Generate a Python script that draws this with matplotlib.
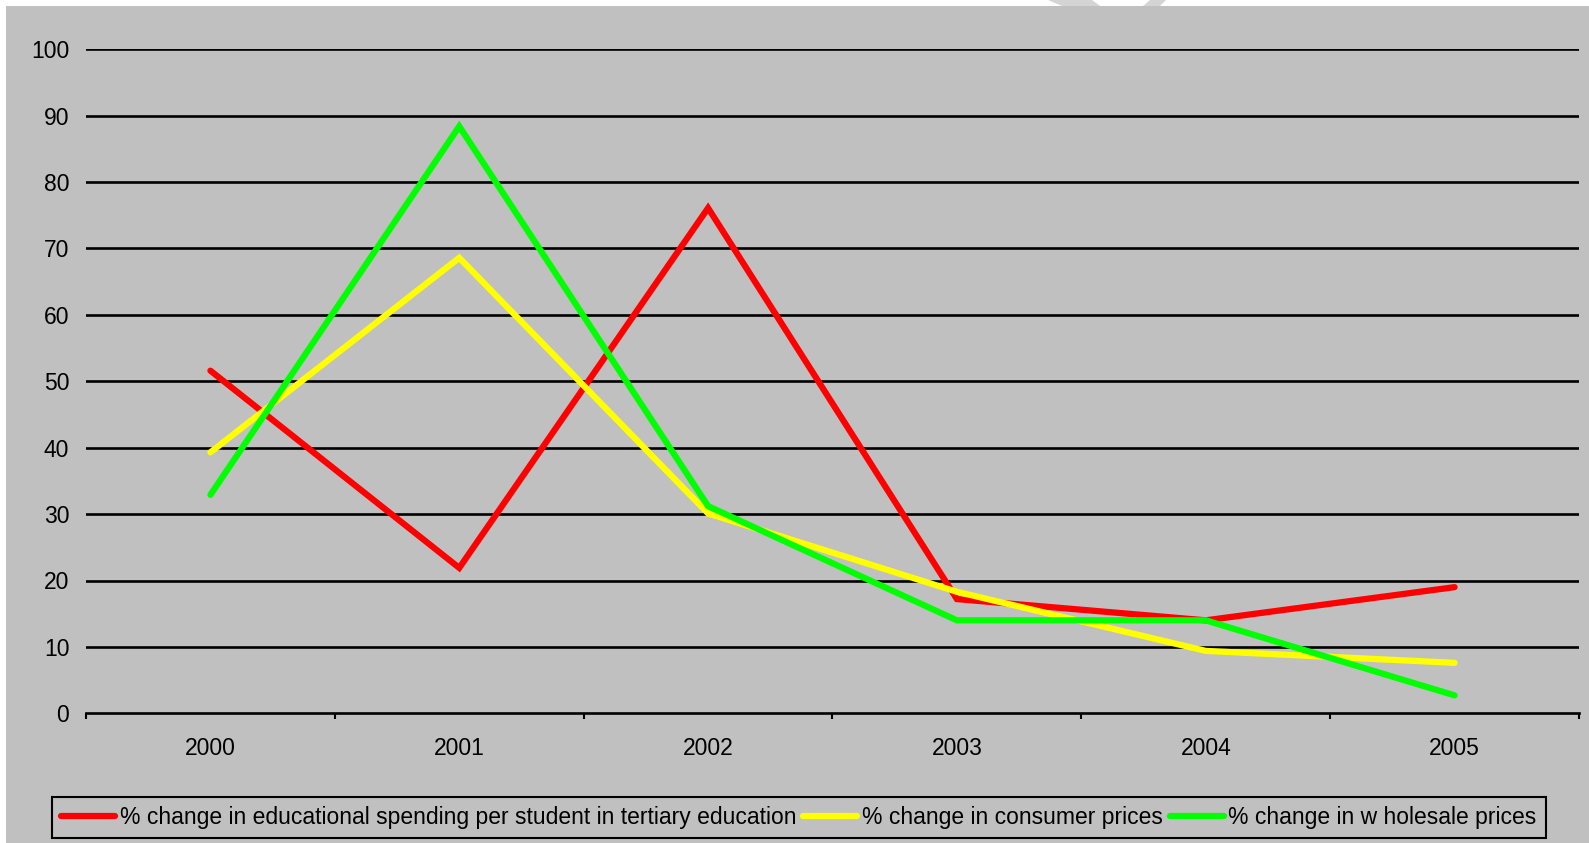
import numpy as np
import matplotlib
matplotlib.use("Agg")
import matplotlib.pyplot as plt
from matplotlib.patches import Rectangle, Polygon

# dados
anos = ["2000", "2001", "2002", "2003", "2004", "2005"]
gasto_educacao = [51.6, 21.9, 76.1, 17.2, 14.0, 19.0]
precos_consumidor = [39.3, 68.6, 30.1, 18.3, 9.4, 7.6]
precos_atacado = [32.9, 88.4, 31.2, 14.0, 14.0, 2.7]

rotulos = [
    "% change in educational spending per student in tertiary education",
    "% change in consumer prices",
    "% change in w holesale prices",
]
cores = ["#FF0000", "#FFFF00", "#00FF00"]

plt.rcParams["font.family"] = ["Liberation Sans", "DejaVu Sans"]

W, H = 1589, 843
fig = plt.figure(figsize=(W / 100, H / 100), dpi=100)
fig.patch.set_facecolor("white")

# fundo cinza com a borda branca em cima e à esquerda
cinza = "#C0C0C0"
fig.patches.append(Rectangle((6 / W, 0), 1, 1 - 6 / H, transform=fig.transFigure,
                             facecolor=cinza, edgecolor="none", zorder=-10))
# pedaço da marca d'água que aparece na borda de cima
fig.patches.append(Polygon([(1048 / W, 1), (1092 / W, 1), (1100 / W, 1 - 6 / H), (1062 / W, 1 - 6 / H)],
                           closed=True, transform=fig.transFigure, facecolor="#D4D4D4", edgecolor="none", zorder=-10))
fig.patches.append(Polygon([(1143 / W, 1 - 6 / H), (1160 / W, 1 - 6 / H), (1166 / W, 1), (1150 / W, 1)],
                           closed=True, transform=fig.transFigure, facecolor="#D4D4D4", edgecolor="none", zorder=-10))

left, right = 86 / W, 1579 / W
bottom, top = 1 - 713.3 / H, 1 - 49.3 / H
ax = fig.add_axes([left, bottom, right - left, top - bottom])
ax.set_facecolor(cinza)

x = np.arange(len(anos))
series = [gasto_educacao, precos_consumidor, precos_atacado]
for valores, cor, rotulo in zip(series, cores, rotulos):
    ax.plot(x, valores, color=cor, lw=4.5, label=rotulo,
            solid_capstyle="round", solid_joinstyle="miter", zorder=3)

ax.set_xlim(-0.5, len(anos) - 0.5)
ax.set_ylim(0, 100)

# eixo y: só linhas de grade pretas
ax.set_yticks(np.arange(0, 101, 10))
ax.tick_params(axis="y", length=0, pad=12, labelsize=16.5)
for v in range(10, 101, 10):
    ax.axhline(v, color="black", lw=1.9, zorder=1)

# eixo x: marcas entre categorias, rótulos no centro
ax.set_xticks(np.arange(-0.5, len(anos), 1.0))
ax.set_xticklabels([])
ax.set_xticks(x, minor=True)
ax.set_xticklabels(anos, minor=True)
ax.tick_params(axis="x", which="major", direction="out", length=4.5, width=1.5, color="black")
ax.tick_params(axis="x", which="minor", length=0, pad=17, labelsize=16.5)

for lado in ["left", "top", "right"]:
    ax.spines[lado].set_visible(False)
ax.spines["bottom"].set_linewidth(1.9)
ax.spines["bottom"].set_color("black")
ax.spines["bottom"].set_zorder(2)

leg = fig.legend(loc="lower left", bbox_to_anchor=(52 / W, 1 - 838 / H), ncol=3,
                 fontsize=16.5, frameon=True, fancybox=False, handlelength=2.36,
                 handletextpad=0.2, columnspacing=0.3, borderpad=0.4, borderaxespad=0)
leg.get_frame().set_facecolor(cinza)
leg.get_frame().set_edgecolor("black")
leg.get_frame().set_linewidth(1.5)
leg.get_frame().set_alpha(1)

fig.savefig("out.png", dpi=100, facecolor=fig.get_facecolor())
